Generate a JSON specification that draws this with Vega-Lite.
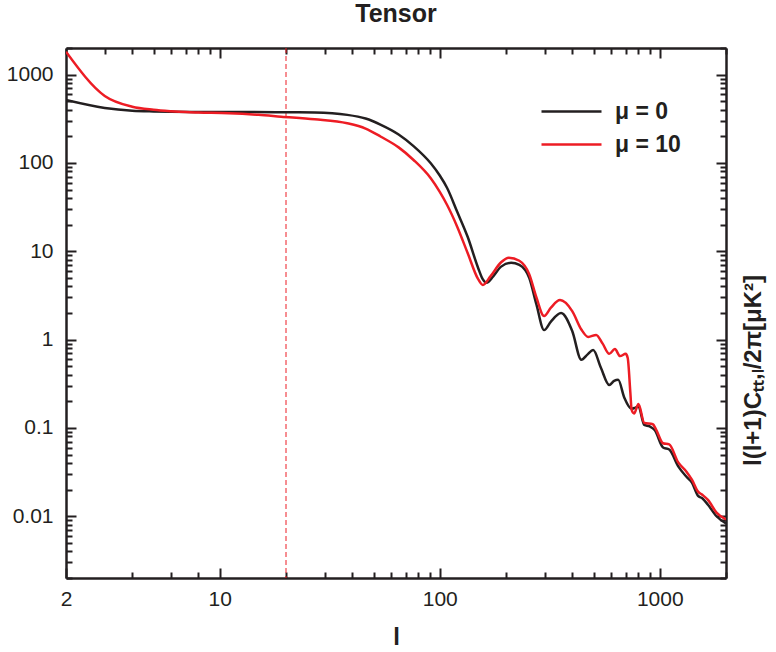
{
  "$schema": "https://vega.github.io/schema/vega-lite/v6.json",
  "width": 660,
  "height": 530,
  "autosize": "none",
  "padding": {"left": 66, "top": 48, "right": 50, "bottom": 74},
  "background": "white",
  "config": {"view": {"stroke": null}, "font": "Liberation Sans"},
  "title": {"text": "Tensor", "font": "Liberation Sans", "fontSize": 25, "fontWeight": "bold", "color": "#231f20", "anchor": "middle", "frame": "group", "offset": 10},
  "layer": [
    {
      "data": {"values": [{"l": 20}]},
      "mark": {"type": "rule", "color": "#ed1c24", "strokeWidth": 1, "strokeDash": [5, 3]},
      "encoding": {
        "x": {"field": "l", "type": "quantitative",
          "scale": {"type": "log", "domain": [2, 2000], "nice": false},
          "axis": {"orient": "top", "values": [2,3,4,5,6,7,8,9,10,20,30,40,50,60,70,80,90,100,200,300,400,500,600,700,800,900,1000,2000],
            "labels": false, "title": null, "grid": false,
            "tickSize": {"condition": {"test": "indexof([10,100,1000], datum.value) >= 0", "value": -10}, "value": -6},
            "tickWidth": 2, "tickColor": "#231f20", "domainWidth": 2.5, "domainColor": "#231f20"}}
      }
    },
    {
      "data": {"values": [
        {"l": 2, "v": 515, "s": "μ = 0"},
        {"l": 3, "v": 419, "s": "μ = 0"},
        {"l": 4, "v": 390, "s": "μ = 0"},
        {"l": 5, "v": 383, "s": "μ = 0"},
        {"l": 6, "v": 380, "s": "μ = 0"},
        {"l": 8, "v": 378, "s": "μ = 0"},
        {"l": 10, "v": 377, "s": "μ = 0"},
        {"l": 14, "v": 377, "s": "μ = 0"},
        {"l": 19, "v": 375, "s": "μ = 0"},
        {"l": 27, "v": 372, "s": "μ = 0"},
        {"l": 38, "v": 350, "s": "μ = 0"},
        {"l": 46, "v": 318, "s": "μ = 0"},
        {"l": 54, "v": 270, "s": "μ = 0"},
        {"l": 65, "v": 210, "s": "μ = 0"},
        {"l": 76, "v": 155, "s": "μ = 0"},
        {"l": 91, "v": 99, "s": "μ = 0"},
        {"l": 100, "v": 72, "s": "μ = 0"},
        {"l": 108, "v": 52, "s": "μ = 0"},
        {"l": 120, "v": 28, "s": "μ = 0"},
        {"l": 134, "v": 14.5, "s": "μ = 0"},
        {"l": 149, "v": 6.6, "s": "μ = 0"},
        {"l": 157, "v": 4.8, "s": "μ = 0"},
        {"l": 163, "v": 4.4, "s": "μ = 0"},
        {"l": 175, "v": 5.2, "s": "μ = 0"},
        {"l": 190, "v": 6.7, "s": "μ = 0"},
        {"l": 211, "v": 7.4, "s": "μ = 0"},
        {"l": 230, "v": 7.0, "s": "μ = 0"},
        {"l": 255, "v": 5.0, "s": "μ = 0"},
        {"l": 275, "v": 2.5, "s": "μ = 0"},
        {"l": 298, "v": 1.28, "s": "μ = 0"},
        {"l": 320, "v": 1.6, "s": "μ = 0"},
        {"l": 356, "v": 2.0, "s": "μ = 0"},
        {"l": 400, "v": 1.25, "s": "μ = 0"},
        {"l": 440, "v": 0.59, "s": "μ = 0"},
        {"l": 470, "v": 0.68, "s": "μ = 0"},
        {"l": 498, "v": 0.76, "s": "μ = 0"},
        {"l": 540, "v": 0.48, "s": "μ = 0"},
        {"l": 589, "v": 0.306, "s": "μ = 0"},
        {"l": 620, "v": 0.34, "s": "μ = 0"},
        {"l": 647, "v": 0.35, "s": "μ = 0"},
        {"l": 690, "v": 0.22, "s": "μ = 0"},
        {"l": 743, "v": 0.165, "s": "μ = 0"},
        {"l": 775, "v": 0.17, "s": "μ = 0"},
        {"l": 800, "v": 0.175, "s": "μ = 0"},
        {"l": 850, "v": 0.108, "s": "μ = 0"},
        {"l": 900, "v": 0.104, "s": "μ = 0"},
        {"l": 950, "v": 0.094, "s": "μ = 0"},
        {"l": 1035, "v": 0.06, "s": "μ = 0"},
        {"l": 1104, "v": 0.057, "s": "μ = 0"},
        {"l": 1211, "v": 0.037, "s": "μ = 0"},
        {"l": 1322, "v": 0.028, "s": "μ = 0"},
        {"l": 1400, "v": 0.024, "s": "μ = 0"},
        {"l": 1493, "v": 0.017, "s": "μ = 0"},
        {"l": 1560, "v": 0.016, "s": "μ = 0"},
        {"l": 1656, "v": 0.0135, "s": "μ = 0"},
        {"l": 1811, "v": 0.01, "s": "μ = 0"},
        {"l": 2000, "v": 0.0083, "s": "μ = 0"},
        {"l": 2, "v": 1815, "s": "μ = 10"},
        {"l": 3, "v": 573, "s": "μ = 10"},
        {"l": 4, "v": 433, "s": "μ = 10"},
        {"l": 5, "v": 400, "s": "μ = 10"},
        {"l": 6, "v": 385, "s": "μ = 10"},
        {"l": 7, "v": 376, "s": "μ = 10"},
        {"l": 8, "v": 372, "s": "μ = 10"},
        {"l": 11, "v": 365, "s": "μ = 10"},
        {"l": 15, "v": 350, "s": "μ = 10"},
        {"l": 19, "v": 334, "s": "μ = 10"},
        {"l": 27, "v": 312, "s": "μ = 10"},
        {"l": 38, "v": 281, "s": "μ = 10"},
        {"l": 46, "v": 245, "s": "μ = 10"},
        {"l": 54, "v": 198, "s": "μ = 10"},
        {"l": 65, "v": 150, "s": "μ = 10"},
        {"l": 76, "v": 108, "s": "μ = 10"},
        {"l": 91, "v": 67, "s": "μ = 10"},
        {"l": 100, "v": 47, "s": "μ = 10"},
        {"l": 108, "v": 33.4, "s": "μ = 10"},
        {"l": 120, "v": 19, "s": "μ = 10"},
        {"l": 134, "v": 9.5, "s": "μ = 10"},
        {"l": 149, "v": 4.9, "s": "μ = 10"},
        {"l": 157, "v": 4.15, "s": "μ = 10"},
        {"l": 170, "v": 5.2, "s": "μ = 10"},
        {"l": 190, "v": 7.5, "s": "μ = 10"},
        {"l": 206, "v": 8.45, "s": "μ = 10"},
        {"l": 230, "v": 7.8, "s": "μ = 10"},
        {"l": 255, "v": 5.5, "s": "μ = 10"},
        {"l": 275, "v": 3.0, "s": "μ = 10"},
        {"l": 298, "v": 1.85, "s": "μ = 10"},
        {"l": 320, "v": 2.3, "s": "μ = 10"},
        {"l": 352, "v": 2.8, "s": "μ = 10"},
        {"l": 400, "v": 2.1, "s": "μ = 10"},
        {"l": 440, "v": 1.3, "s": "μ = 10"},
        {"l": 473, "v": 1.07, "s": "μ = 10"},
        {"l": 514, "v": 1.13, "s": "μ = 10"},
        {"l": 550, "v": 0.9, "s": "μ = 10"},
        {"l": 589, "v": 0.69, "s": "μ = 10"},
        {"l": 625, "v": 0.78, "s": "μ = 10"},
        {"l": 660, "v": 0.65, "s": "μ = 10"},
        {"l": 700, "v": 0.69, "s": "μ = 10"},
        {"l": 715, "v": 0.62, "s": "μ = 10"},
        {"l": 735, "v": 0.25, "s": "μ = 10"},
        {"l": 745, "v": 0.16, "s": "μ = 10"},
        {"l": 764, "v": 0.146, "s": "μ = 10"},
        {"l": 800, "v": 0.186, "s": "μ = 10"},
        {"l": 850, "v": 0.114, "s": "μ = 10"},
        {"l": 930, "v": 0.11, "s": "μ = 10"},
        {"l": 960, "v": 0.097, "s": "μ = 10"},
        {"l": 1035, "v": 0.067, "s": "μ = 10"},
        {"l": 1104, "v": 0.065, "s": "μ = 10"},
        {"l": 1211, "v": 0.041, "s": "μ = 10"},
        {"l": 1322, "v": 0.032, "s": "μ = 10"},
        {"l": 1400, "v": 0.026, "s": "μ = 10"},
        {"l": 1493, "v": 0.019, "s": "μ = 10"},
        {"l": 1560, "v": 0.0175, "s": "μ = 10"},
        {"l": 1656, "v": 0.0153, "s": "μ = 10"},
        {"l": 1811, "v": 0.011, "s": "μ = 10"},
        {"l": 2000, "v": 0.0092, "s": "μ = 10"}
      ]},
      "mark": {"type": "line", "strokeWidth": 2.5, "interpolate": "monotone", "clip": true},
      "encoding": {
        "x": {"field": "l", "type": "quantitative",
          "scale": {"type": "log", "domain": [2, 2000], "nice": false},
          "axis": {"orient": "bottom", "values": [2,4,6,8,10,20,30,40,50,60,70,80,90,100,200,300,400,500,600,700,800,900,1000,2000],
            "labelExpr": "indexof([2,10,100,1000], datum.value) >= 0 ? '' + datum.value : ''",
            "labelFont": "Liberation Sans", "labelFontSize": 21, "labelColor": "#231f20", "labelPadding": 20, "labelFlush": false, "labelOverlap": false,
            "tickSize": {"condition": {"test": "indexof([2,10,100,1000], datum.value) >= 0", "value": -10}, "value": -6},
            "tickWidth": 2, "tickColor": "#231f20", "domainWidth": 2.5, "domainColor": "#231f20", "grid": false,
            "title": "l", "titleFont": "Liberation Sans", "titleFontSize": 24, "titleFontWeight": "bold", "titleColor": "#231f20", "titlePadding": 12}},
        "y": {"field": "v", "type": "quantitative",
          "scale": {"type": "log", "domain": [0.002, 2000], "nice": false},
          "axis": {"orient": "left", "values": [0.002,0.003,0.004,0.005,0.006,0.007,0.008,0.009,0.01,0.02,0.03,0.04,0.05,0.06,0.07,0.08,0.09,0.1,0.2,0.3,0.4,0.5,0.6,0.7,0.8,0.9,1,2,3,4,5,6,7,8,9,10,20,30,40,50,60,70,80,90,100,200,300,400,500,600,700,800,900,1000,2000],
            "labelExpr": "indexof([0.01,0.1,1,10,100,1000], datum.value) >= 0 ? '' + datum.value : ''",
            "labelFont": "Liberation Sans", "labelFontSize": 21, "labelColor": "#231f20", "labelPadding": 23, "labelFlush": false, "labelOverlap": false,
            "tickSize": {"condition": {"test": "indexof([0.01,0.1,1,10,100,1000], datum.value) >= 0", "value": -10}, "value": -6},
            "tickWidth": 2, "tickColor": "#231f20", "domainWidth": 2.5, "domainColor": "#231f20", "grid": false, "title": null}},
        "color": {"field": "s", "type": "nominal",
          "scale": {"domain": ["μ = 0", "μ = 10"], "range": ["#231f20", "#ed1c24"]},
          "legend": {"orient": "none", "legendX": 494, "legendY": 52, "title": null, "symbolType": "M-3,0H3", "symbolSize": 400, "symbolStrokeWidth": 2.5, "symbolFillColor": "transparent",
            "labelFont": "Liberation Sans", "labelFontSize": 23, "labelFontWeight": "bold", "labelColor": "#231f20", "labelOffset": 32, "rowPadding": 9, "padding": 0}}
      }
    },
    {
      "data": {"values": [{"v": 1}]},
      "mark": {"type": "rule", "opacity": 0},
      "encoding": {
        "y": {"field": "v", "type": "quantitative",
          "scale": {"type": "log", "domain": [0.002, 2000], "nice": false},
          "axis": {"orient": "right", "values": [0.002,0.003,0.004,0.005,0.006,0.007,0.008,0.009,0.01,0.02,0.03,0.04,0.05,0.06,0.07,0.08,0.09,0.1,0.2,0.3,0.4,0.5,0.6,0.7,0.8,0.9,1,2,3,4,5,6,7,8,9,10,20,30,40,50,60,70,80,90,100,200,300,400,500,600,700,800,900,1000,2000],
            "labels": false, "grid": false,
            "tickSize": {"condition": {"test": "indexof([0.01,0.1,1,10,100,1000], datum.value) >= 0", "value": -10}, "value": -6},
            "tickWidth": 2, "tickColor": "#231f20", "domainWidth": 2.5, "domainColor": "#231f20",
            "title": "l(l+1)Cₜₜ,ₗ/2π[μK²]", "titleFont": "Liberation Sans", "titleFontSize": 24, "titleFontWeight": "bold", "titleColor": "#231f20",
            "titleAngle": 270, "titleAlign": "center", "titleBaseline": "middle", "titleX": 27, "titleY": 322}}
      }
    }
  ],
  "resolve": {"axis": {"x": "independent", "y": "independent"}}
}
